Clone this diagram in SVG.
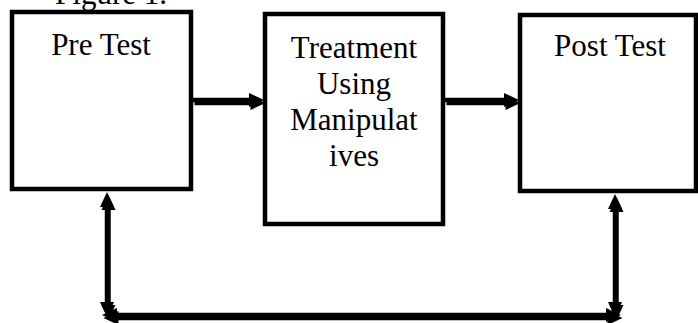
<svg xmlns="http://www.w3.org/2000/svg" width="698" height="323" viewBox="0 0 698 323">
<style>
.box{fill:#fff;stroke:#000;stroke-width:4.5}
.t{font-family:"Liberation Serif","Times New Roman",serif;font-size:31px;fill:#000;text-anchor:middle}
.ln{stroke:#000;stroke-width:4.5;fill:none}
.hd{fill:#000}
.sh .ln{stroke:#9a9a9a}
.sh .hd{fill:#9a9a9a}
</style>
<defs>
<g id="conn">
<line class="ln" x1="193" y1="100" x2="252" y2="100"/>
<polygon class="hd" points="249,93 264,100 249,107"/>
<line class="ln" x1="445" y1="100" x2="506" y2="100"/>
<polygon class="hd" points="504,93 519,100 504,107"/>
<line class="ln" x1="107" y1="204" x2="107" y2="306"/>
<polygon class="hd" points="100,207 107,192 114,207"/>
<polygon class="hd" points="100,302 107,317 114,302"/>
<line class="ln" x1="615" y1="206" x2="615" y2="306"/>
<polygon class="hd" points="608,209 615,194 622,209"/>
<polygon class="hd" points="608,302 615,317 622,302"/>
<line class="ln" x1="112" y1="315" x2="610" y2="315"/>
<polygon class="hd" points="117,308 102,315 117,322"/>
<polygon class="hd" points="606,308 621,315 606,322"/>
</g>
</defs>
<text class="t" x="111" y="4">Figure 1.</text>
<g id="pre-test">
<rect class="box" x="12" y="12" width="179" height="177"/>
<text class="t" x="101" y="55">Pre Test</text>
</g>
<g id="treatment">
<rect class="box" x="265" y="14" width="178" height="210"/>
<text class="t" x="354" y="58">Treatment</text>
<text class="t" x="354" y="94">Using</text>
<text class="t" x="354" y="130">Manipulat</text>
<text class="t" x="354" y="166">ives</text>
</g>
<g id="post-test">
<rect class="box" x="520" y="15" width="176" height="176"/>
<text class="t" x="610" y="56">Post Test</text>
</g>
<g id="connectors">
<use href="#conn" class="sh" transform="translate(1.5,3)"/>
<use href="#conn"/>
</g>
</svg>
